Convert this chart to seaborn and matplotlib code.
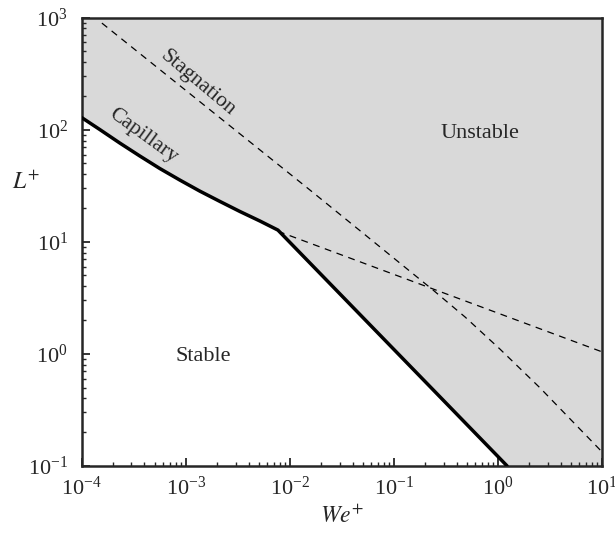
import numpy as np
import matplotlib
matplotlib.use("Agg")
import matplotlib.pyplot as plt
import seaborn as sns
from matplotlib.ticker import LogLocator, NullFormatter

# boundary of the stable region (capillary branch + kink + steep branch)
cap_we = [1e-4, 1.49e-4, 2.32e-4, 3.61e-4, 5.62e-4, 8.75e-4, 1.36e-3,
          2.12e-3, 3.31e-3, 5.15e-3, 7.67e-3, 1.22]
cap_L = [128, 100.2, 75.9, 58.2, 45.0, 35.5, 28.3, 22.9, 18.6, 15.3, 12.7, 0.1]

# stagnation line (dashed, bends down slightly at large We+)
stag_we = [1.56e-4, 1.56e-2, 0.237, 0.482, 1.045, 2.54, 10]
stag_L = [893, 28.9, 3.71, 2.13, 1.10, 0.495, 0.133]

# continuation of the capillary line past the kink (dashed)
ext_we = [7.67e-3, 10]
ext_L = [12.4, 1.04]

sns.set_style("ticks")
plt.rcParams['font.family'] = ['Liberation Serif', 'DejaVu Serif']
plt.rcParams['mathtext.fontset'] = 'stix'

fig, ax = plt.subplots(figsize=(6.15, 5.33), dpi=100)
fig.subplots_adjust(left=0.133, right=0.979, bottom=0.126, top=0.967)

# grey unstable region above the boundary
fill_x = cap_we + [10]
fill_y = cap_L + [0.1]
ax.fill_between(fill_x, fill_y, 1e3, color='#d9d9d9', lw=0, zorder=0)

sns.lineplot(x=cap_we, y=cap_L, ax=ax, color='black', lw=2.5, sort=False, zorder=3)
sns.lineplot(x=stag_we, y=stag_L, ax=ax, color='black', lw=0.9,
             linestyle=(0, (5.5, 4.5)), zorder=2)
sns.lineplot(x=ext_we, y=ext_L, ax=ax, color='black', lw=0.9,
             linestyle=(0, (5.5, 4.5)), zorder=2)

ax.set_xscale('log')
ax.set_yscale('log')
ax.set_xlim(1e-4, 10)
ax.set_ylim(0.1, 1e3)

ax.xaxis.set_major_locator(LogLocator(base=10, numticks=10))
ax.yaxis.set_major_locator(LogLocator(base=10, numticks=10))
ax.xaxis.set_minor_locator(LogLocator(base=10, subs=np.arange(2, 10), numticks=20))
ax.yaxis.set_minor_locator(LogLocator(base=10, subs=np.arange(2, 10), numticks=20))
ax.xaxis.set_minor_formatter(NullFormatter())
ax.yaxis.set_minor_formatter(NullFormatter())

ax.tick_params(which='both', direction='in', top=False, right=False, labelsize=16)
ax.tick_params(which='major', length=6, width=1.3)
ax.tick_params(which='minor', length=3, width=1.0)
ax.tick_params(axis='x', pad=8)
ax.tick_params(axis='y', pad=10)
for s in ax.spines.values():
    s.set_linewidth(1.8)
    s.set_visible(True)

ax.set_xlabel('$We^{+}$', fontsize=17, labelpad=4)
ax.set_ylabel('$L^{+}$', fontsize=17, rotation=0, va='center', ha='center')
ax.yaxis.set_label_coords(-0.106, 0.632)

ax.text(1.29e-3, 261, 'Stagnation', fontsize=15.5, rotation=-40, ha='center', va='center')
ax.text(3.86e-4, 87.7, 'Capillary', fontsize=15.5, rotation=-36, ha='center', va='center')
ax.text(0.67, 93, 'Unstable', fontsize=16, ha='center', va='center')
ax.text(1.46e-3, 0.94, 'Stable', fontsize=16, ha='center', va='center')

fig.savefig('out.png', dpi=100)
